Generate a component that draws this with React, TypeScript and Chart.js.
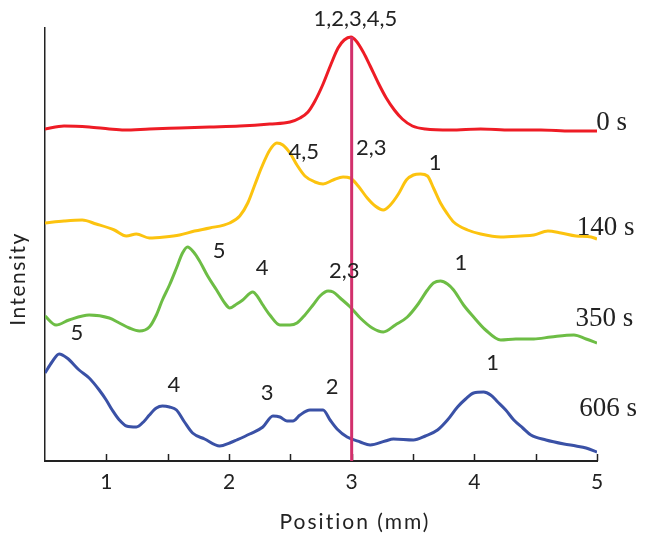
import React, { useEffect, useRef } from "react";
import { Chart, registerables } from "chart.js";

Chart.register(...registerables);

// Position (mm) and intensity (a.u.) of the four profiles
const redX = [0.5, 0.655, 0.86, 1.024, 1.146, 1.351, 1.597, 1.842, 2.088, 2.333, 2.497, 2.579, 2.644, 2.701, 2.767, 2.832, 2.889, 2.939, 2.995, 3.037, 3.094, 3.151, 3.217, 3.282, 3.348, 3.413, 3.495, 3.601, 3.806, 4.052, 4.297, 4.543, 4.788, 5.0];
const redY = [332, 335, 334, 332, 331, 332, 333, 334, 335, 337, 339, 343, 349, 360, 377, 397, 413, 421, 424, 420, 409, 395, 378, 363, 351, 342, 335, 332, 331, 332, 331, 331, 330, 330];

const yellowX = [0.5, 0.655, 0.803, 0.917, 1.065, 1.163, 1.245, 1.351, 1.474, 1.597, 1.719, 1.842, 2.006, 2.088, 2.153, 2.21, 2.267, 2.333, 2.39, 2.439, 2.497, 2.554, 2.619, 2.701, 2.767, 2.849, 2.93, 2.988, 3.053, 3.127, 3.192, 3.258, 3.315, 3.381, 3.446, 3.503, 3.561, 3.618, 3.667, 3.724, 3.781, 3.831, 3.945, 4.052, 4.215, 4.379, 4.485, 4.6, 4.706, 4.829, 4.952, 5.0];
const yellowY = [238, 240, 241, 237, 231, 225, 227, 223, 224, 226, 230, 233, 238, 245, 258, 276, 294, 311, 318, 316, 308, 296, 285, 279, 277, 281, 284, 283, 275, 263, 255, 251, 256, 267, 281, 286, 287, 285, 273, 258, 247, 239, 231, 227, 224, 225, 226, 230, 228, 225, 224, 222];

const greenX = [0.5, 0.59, 0.696, 0.86, 1.024, 1.106, 1.187, 1.269, 1.351, 1.408, 1.457, 1.515, 1.572, 1.621, 1.662, 1.711, 1.76, 1.826, 1.899, 1.965, 2.006, 2.063, 2.112, 2.194, 2.235, 2.276, 2.333, 2.415, 2.497, 2.554, 2.619, 2.685, 2.742, 2.808, 2.849, 2.906, 2.988, 3.07, 3.168, 3.258, 3.356, 3.454, 3.536, 3.618, 3.667, 3.724, 3.781, 3.831, 3.912, 3.994, 4.092, 4.215, 4.338, 4.485, 4.624, 4.812, 4.911, 5.0];
const greenY = [145, 136, 141, 146, 143, 138, 133, 130, 134, 146, 161, 176, 193, 208, 214, 209, 200, 185, 171, 158, 153, 157, 161, 169, 164, 156, 146, 136, 136, 138, 146, 156, 165, 170, 169, 163, 154, 143, 133, 129, 136, 144, 156, 171, 178, 180, 177, 171, 156, 144, 131, 121, 122, 122, 124, 126, 122, 118];

const blueX = [0.5, 0.557, 0.615, 0.68, 0.778, 0.86, 0.942, 0.999, 1.048, 1.106, 1.163, 1.245, 1.31, 1.351, 1.408, 1.457, 1.515, 1.572, 1.637, 1.703, 1.801, 1.924, 2.006, 2.063, 2.169, 2.276, 2.358, 2.415, 2.472, 2.521, 2.579, 2.66, 2.767, 2.824, 2.881, 2.963, 3.07, 3.151, 3.274, 3.34, 3.503, 3.601, 3.7, 3.781, 3.863, 3.929, 3.994, 4.076, 4.133, 4.191, 4.256, 4.322, 4.395, 4.461, 4.584, 4.731, 4.829, 4.911, 5.0];
const blueY = [88, 99, 107, 103, 91, 83, 71, 61, 51, 41, 35, 34, 40, 46, 53, 55, 54, 51, 39, 28, 22, 15, 18, 21, 27, 34, 45, 44, 40, 40, 46, 51, 51, 41, 32, 24, 19, 16, 20, 22, 21, 25, 31, 41, 54, 62, 68, 69, 66, 59, 51, 41, 33, 26, 21, 17, 15, 13, 9];

const seriesNames = ["0 s", "140 s", "350 s", "606 s"];
const seriesColors = ["#ee1c25", "#fcc30f", "#6dbd45", "#3a51a6"];

// Band assignment labels: text, position (mm), intensity
const bandText = ["1,2,3,4,5", "4,5", "2,3", "1", "5", "4", "2,3", "1", "5", "4", "3", "2", "1"];
const bandX = [3.03, 2.61, 3.16, 3.68, 1.92, 2.27, 2.94, 3.89, 0.76, 1.55, 2.31, 2.84, 4.15];
const bandY = [442, 309, 313, 298, 210, 193, 190, 198, 128, 76, 68, 74, 98];

// Time labels at the right end of each profile
const timeX = [5.12, 5.07, 5.06, 5.09];
const timeY = [338, 233, 142, 52];

const xTickValues = [1, 1.5, 2, 2.5, 3, 3.5, 4, 4.5, 5];
const markerX = 3.0;
const markerTop = 424;

const X_MIN = 0.5;
const X_MAX = 5;
const Y_MIN = 0;
const Y_MAX = 433;

const SANS = "Lato, 'Open Sans', sans-serif";
const SERIF = "'Liberation Serif', 'DejaVu Serif', serif";

const overlay = {
  id: "overlay",
  afterDatasetsDraw(chart: any) {
    const { ctx, chartArea, scales } = chart;
    const xs = scales.x;
    const ys = scales.y;
    ctx.save();
    // inward tick marks
    ctx.strokeStyle = "#222";
    ctx.lineWidth = 1.5;
    xTickValues.forEach((v) => {
      const px = Math.round(xs.getPixelForValue(v)) + 0.5;
      ctx.beginPath();
      ctx.moveTo(px, chartArea.bottom);
      ctx.lineTo(px, chartArea.bottom - 7);
      ctx.stroke();
    });
    // vertical marker line
    ctx.strokeStyle = "#d2306c";
    ctx.lineWidth = 3;
    const mx = xs.getPixelForValue(markerX);
    ctx.beginPath();
    ctx.moveTo(mx, ys.getPixelForValue(markerTop));
    ctx.lineTo(mx, chartArea.bottom);
    ctx.stroke();
    // band labels
    ctx.fillStyle = "#222";
    ctx.textAlign = "center";
    ctx.textBaseline = "middle";
    ctx.font = `22px ${SANS}`;
    bandText.forEach((t, i) => {
      ctx.fillText(t, xs.getPixelForValue(bandX[i]), ys.getPixelForValue(bandY[i]));
    });
    // time labels
    ctx.font = `27px ${SERIF}`;
    seriesNames.forEach((t, i) => {
      ctx.fillText(t, xs.getPixelForValue(timeX[i]), ys.getPixelForValue(timeY[i]));
    });
    // axis titles
    ctx.font = `21px ${SANS}`;
    (ctx as any).letterSpacing = "2px";
    ctx.fillText("Position (mm)", 355, 522);
    (ctx as any).letterSpacing = "1.5px";
    ctx.translate(18, 279);
    ctx.rotate(-Math.PI / 2);
    ctx.fillText("Intensity", 0, 0);
    ctx.restore();
  },
};

export default function App() {
  const ref = useRef<HTMLCanvasElement | null>(null);
  useEffect(() => {
    if (!ref.current) return;
    const xsList = [redX, yellowX, greenX, blueX];
    const ysList = [redY, yellowY, greenY, blueY];
    const chart = new Chart(ref.current, {
      type: "line",
      data: {
        datasets: seriesNames.map((name, i) => ({
          label: name,
          data: xsList[i].map((x, j) => ({ x, y: ysList[i][j] })),
          borderColor: seriesColors[i],
          borderWidth: 3,
          pointRadius: 0,
          cubicInterpolationMode: "monotone" as const,
          fill: false,
        })),
      },
      options: {
        responsive: false,
        animation: false,
        layout: { padding: { top: 28, right: 48, left: 0, bottom: 0 } },
        plugins: { legend: { display: false }, tooltip: { enabled: false } },
        scales: {
          x: {
            type: "linear",
            min: X_MIN,
            max: X_MAX,
            afterFit: (s: any) => {
              s.height = 83;
            },
            afterBuildTicks: (s: any) => {
              s.ticks = xTickValues.map((v) => ({ value: v }));
            },
            grid: { display: false, drawTicks: false },
            border: { display: true, color: "#222", width: 2 },
            ticks: {
              padding: 9,
              color: "#222",
              font: { family: SANS, size: 21 },
              callback: (v: any) => (Number(v) % 1 === 0 ? String(v) : ""),
            },
          },
          y: {
            type: "linear",
            min: Y_MIN,
            max: Y_MAX,
            afterFit: (s: any) => {
              s.width = 45;
            },
            grid: { display: false, drawTicks: false },
            border: { display: true, color: "#222", width: 1.5 },
            ticks: { display: false },
          },
        },
      },
      plugins: [overlay],
    });
    return () => chart.destroy();
  }, []);
  return (
    <div style={{ position: "absolute", left: 0, top: 0, width: 645, height: 544, background: "#fff" }}>
      <canvas ref={ref} width={645} height={544} />
    </div>
  );
}
